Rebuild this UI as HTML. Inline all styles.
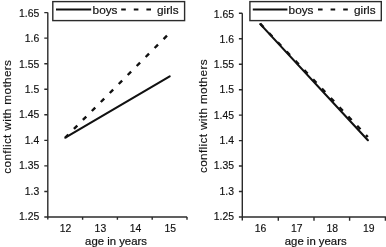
<!DOCTYPE html>
<html><head><meta charset="utf-8"><title>conflict with mothers</title>
<style>
html,body{margin:0;padding:0;background:#fff;}
body{width:386px;height:247px;overflow:hidden;}
svg{display:block;filter:blur(0.35px);}
text{font-family:"Liberation Sans",Arial,Helvetica,sans-serif;fill:#111;stroke:#111;stroke-width:0.15px;}
.t{font-size:10.4px;}
.l{font-size:11.35px;stroke-width:0.2px;}
.g{font-size:11.8px;stroke-width:0.2px;}
.yl{font-size:11.8px;letter-spacing:0.34px;stroke:#111;stroke-width:0.15px;}
.ax{stroke:#2b2b2b;stroke-width:1.4;fill:none;}
.d{stroke:#111;fill:none;}
</style></head><body>
<svg width="386" height="247" viewBox="0 0 386 247">
<rect width="386" height="247" fill="#fff"/>
<g class="ax">
<path d="M47.8 12.6V219.6"/>
<path d="M44.3 217H187.1"/>
<path d="M44.3 12.6H47.8M44.3 38.15H47.8M44.3 63.7H47.8M44.3 89.25H47.8M44.3 114.8H47.8M44.3 140.35H47.8M44.3 165.9H47.8M44.3 191.45H47.8"/>
<path d="M82.6 217V219.8M117.4 217V219.8M152.2 217V219.8M187 217V219.8"/>
<rect x="52.8" y="1.6" width="131.8" height="19"/>
</g>
<g class="t" text-anchor="end">
<text x="39.3" y="16.7">1.65</text>
<text x="39.3" y="42.11">1.6</text>
<text x="39.3" y="67.52">1.55</text>
<text x="39.3" y="92.93">1.5</text>
<text x="39.3" y="118.34">1.45</text>
<text x="39.3" y="143.75">1.4</text>
<text x="39.3" y="169.16">1.35</text>
<text x="39.3" y="194.57">1.3</text>
<text x="39.3" y="219.98">1.25</text>
</g>
<g class="t" text-anchor="middle">
<text x="65.6" y="232">12</text>
<text x="100.4" y="232">13</text>
<text x="135.6" y="232">14</text>
<text x="170.2" y="232">15</text>
</g>
<text class="l" x="116" y="244.5" text-anchor="middle">age in years</text>
<text class="yl" transform="translate(11.2 116.7) rotate(-90)" text-anchor="middle">conflict with mothers</text>
<path class="d" d="M56 9.5H91.2" stroke-width="2"/>
<text class="g" x="92.6" y="13.6">boys</text>
<path class="d" d="M121.2 9.5H152" stroke-width="2" stroke-dasharray="4.6 8"/>
<text class="g" x="157" y="13.6">girls</text>
<g class="ax">
<path d="M242.3 13.3V220.6"/>
<path d="M238.9 217H385.9"/>
<path d="M238.9 13.3H242.3M238.9 38.76H242.3M238.9 64.22H242.3M238.9 89.69H242.3M238.9 115.15H242.3M238.9 140.61H242.3M238.9 166.07H242.3M238.9 191.54H242.3"/>
<path d="M278.3 217V220.7M314 217V220.7M349.6 217V220.7M385.4 217V220.7"/>
<rect x="249.9" y="1.6" width="131.4" height="19"/>
</g>
<g class="t" text-anchor="end">
<text x="234" y="17.5">1.65</text>
<text x="234" y="42.81">1.6</text>
<text x="234" y="68.12">1.55</text>
<text x="234" y="93.43">1.5</text>
<text x="234" y="118.74">1.45</text>
<text x="234" y="144.05">1.4</text>
<text x="234" y="169.36">1.35</text>
<text x="234" y="194.67">1.3</text>
<text x="234" y="219.98">1.25</text>
</g>
<g class="t" text-anchor="middle">
<text x="260.6" y="232">16</text>
<text x="296.7" y="232">17</text>
<text x="332.3" y="232">18</text>
<text x="368.8" y="232">19</text>
</g>
<text class="l" x="315.7" y="244.5" text-anchor="middle">age in years</text>
<text class="yl" transform="translate(207.4 116.1) rotate(-90)" text-anchor="middle">conflict with mothers</text>
<path class="d" d="M252.8 9.5H287.4" stroke-width="2"/>
<text class="g" x="288.6" y="13.6">boys</text>
<path class="d" d="M318 9.5H349" stroke-width="2" stroke-dasharray="4.6 8"/>
<text class="g" x="354" y="13.6">girls</text>
<path class="d" d="M65.3 137.6L169.7 76.4" stroke-width="2.1" stroke-linecap="round"/>
<path class="d" d="M65.3 137.6L169.7 32.9" stroke-width="2.4" stroke-dasharray="4.8 7.9" stroke-dashoffset="0.5"/>
<path class="d" d="M260.2 23.7L367.8 137" stroke-width="2.4" stroke-dasharray="4.8 8"/>
<path class="d" d="M260.3 24.1L367.9 140.2" stroke-width="2.1" stroke-linecap="round"/>
</svg>
</body></html>
